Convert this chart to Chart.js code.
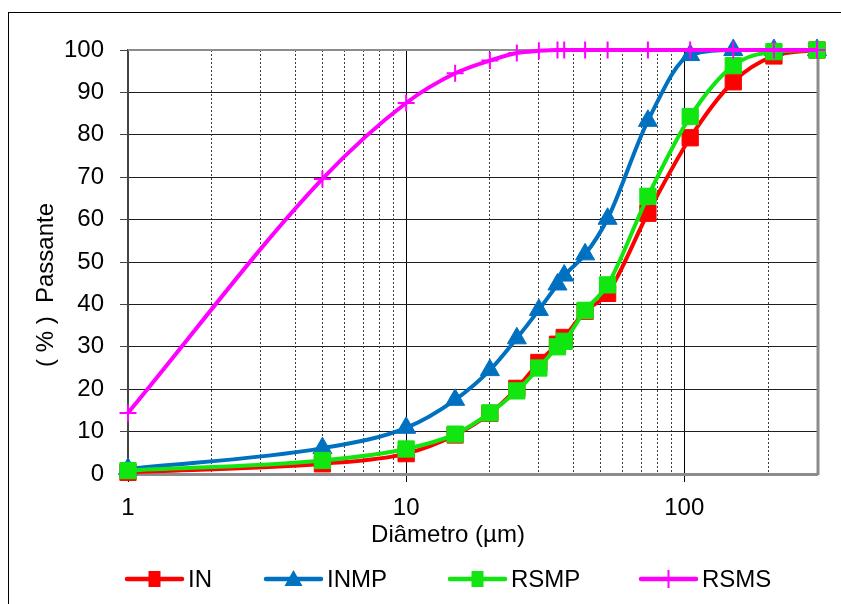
<!DOCTYPE html>
<html>
<head>
<meta charset="utf-8">
<script src="https://cdn.jsdelivr.net/npm/chart.js@4.4.1/dist/chart.umd.min.js"></script>
<style>
  html, body { margin: 0; padding: 0; background: #fff; }
  canvas { display: block; }
</style>
</head>
<body>
<canvas id="chart" width="841" height="604"></canvas>
<script>
// sieve / laser sizes (µm) shared by every curve
const diametro = [1, 5, 10, 15, 20, 25, 30, 35, 37, 44, 53, 74, 105, 150, 210, 300];

// cumulative % passing
const IN   = [0.4, 2.4, 4.8, 9.2, 14.3, 20.2, 26.3, 30.6, 32.2, 38.4, 42.6, 61.5, 79.3, 92.5, 98.6, 100];
const INMP = [1.2, 6.1, 10.9, 17.5, 24.5, 32.0, 38.7, 44.7, 46.8, 51.8, 60.2, 83.3, 98.8, 100, 100, 100];
const RSMP = [0.8, 3.2, 5.9, 9.4, 14.4, 19.6, 25.0, 30.0, 31.3, 38.6, 44.6, 65.5, 84.3, 96.3, 99.6, 100];
const RSMS = [14.4, 69.6, 87.5, 94.5, 97.5, 99.3, 99.8, 100, 100, 100, 100, 100, 100, 100, 100, 100];

const xLabels = [1, 10, 100];
const yTicks = [0, 10, 20, 30, 40, 50, 60, 70, 80, 90, 100];

const FONT = "'Liberation Sans', Arial, sans-serif";

const series = [
  { label: 'IN',   data: IN,   color: '#ff0000', style: 'rect',     radius: 11.5, order: 4 },
  { label: 'INMP', data: INMP, color: '#0070c0', style: 'triangle', radius: 11,   order: 3 },
  { label: 'RSMP', data: RSMP, color: '#11e611', style: 'rect',     radius: 11.5, order: 2 },
  { label: 'RSMS', data: RSMS, color: '#ff00ff', style: 'cross',    radius: 8.5,  order: 1 }
];

const isDecade = v => Math.abs(Math.log10(v) - Math.round(Math.log10(v))) < 1e-9;

// plot frame, outer border, axis titles and the line+marker legend
const extras = {
  id: 'extras',
  beforeDraw(chart) {
    const ctx = chart.ctx;
    ctx.save();
    ctx.strokeStyle = '#000';
    ctx.lineWidth = 1;
    ctx.strokeRect(8.5, 12.5, 900, 700);
    ctx.restore();
  },
  beforeDatasetsDraw(chart) {
    const { ctx, chartArea: a } = chart;
    ctx.save();
    ctx.strokeStyle = '#8c8c8c';
    ctx.lineWidth = 2;
    ctx.beginPath();
    ctx.moveTo(a.left, a.top);
    ctx.lineTo(a.right + 1, a.top);
    ctx.stroke();
    ctx.lineWidth = 3;
    ctx.beginPath();
    ctx.moveTo(a.right + 1, a.top);
    ctx.lineTo(a.right + 1, a.bottom + 1);
    ctx.stroke();
    ctx.restore();
  },
  afterDraw(chart) {
    const ctx = chart.ctx;
    ctx.save();
    ctx.fillStyle = '#000';
    ctx.font = '24px ' + FONT;
    ctx.textAlign = 'center';
    ctx.textBaseline = 'middle';
    ctx.fillText('Diâmetro (µm)', 448, 535);
    ctx.translate(46, 285);
    ctx.rotate(-Math.PI / 2);
    ctx.fillText('( % )  Passante', 0, 0);
    ctx.restore();

    const starts = [127, 266, 450, 641];
    const y = 579;
    series.forEach((s, i) => {
      const x0 = starts[i];
      ctx.save();
      ctx.strokeStyle = s.color;
      ctx.fillStyle = s.color;
      ctx.lineWidth = 4.5;
      ctx.lineCap = 'round';
      ctx.beginPath();
      ctx.moveTo(x0, y);
      ctx.lineTo(x0 + 55, y);
      ctx.stroke();
      const cx = x0 + 27.5;
      if (s.style === 'rect') {
        ctx.fillRect(cx - 6, y - 8, 12, 16);
      } else if (s.style === 'triangle') {
        ctx.beginPath();
        ctx.moveTo(cx, y - 9);
        ctx.lineTo(cx + 9, y + 7);
        ctx.lineTo(cx - 9, y + 7);
        ctx.closePath();
        ctx.fill();
      } else {
        ctx.lineWidth = 2;
        ctx.lineCap = 'butt';
        ctx.beginPath();
        ctx.moveTo(cx, y - 9);
        ctx.lineTo(cx, y + 9);
        ctx.stroke();
      }
      ctx.fillStyle = '#000';
      ctx.font = '24px ' + FONT;
      ctx.textAlign = 'left';
      ctx.textBaseline = 'middle';
      ctx.fillText(s.label, x0 + 61, y + 1);
      ctx.restore();
    });
  }
};

new Chart(document.getElementById('chart'), {
  type: 'line',
  data: {
    datasets: series.map(s => ({
      label: s.label,
      data: s.data.map((v, i) => ({ x: diametro[i], y: v })),
      borderColor: s.color,
      backgroundColor: s.color,
      borderWidth: 4,
      pointStyle: s.style,
      pointRadius: s.radius,
      pointBorderWidth: s.style === 'cross' ? 2 : 1,
      pointBorderColor: s.color,
      pointBackgroundColor: s.color,
      cubicInterpolationMode: 'monotone',
      fill: false,
      clip: false,
      order: s.order
    }))
  },
  options: {
    responsive: false,
    animation: false,
    events: [],
    layout: { padding: { left: 0, top: 50, right: 24, bottom: 0 } },
    plugins: { legend: { display: false }, tooltip: { enabled: false } },
    scales: {
      x: {
        type: 'logarithmic',
        min: 1,
        max: 300,
        afterFit: scale => { scale.height = 130; },
        afterBuildTicks: scale => {
          scale.ticks = scale.ticks.filter(t => {
            const m = t.value / Math.pow(10, Math.floor(Math.log10(t.value) + 1e-9));
            return Math.abs(m - Math.round(m)) < 1e-6;
          });
        },
        ticks: {
          autoSkip: false,
          maxRotation: 0,
          padding: 12,
          color: '#000',
          font: { family: FONT, size: 24 },
          callback: v => (xLabels.includes(v) ? String(v) : '')
        },
        grid: {
          color: c => (c.tick && isDecade(c.tick.value) ? '#000' : '#3a3a3a'),
          lineWidth: 1,
          tickLength: 8,
          tickColor: c => (c.tick && isDecade(c.tick.value) ? '#000' : 'rgba(0,0,0,0)')
        },
        border: {
          display: true,
          color: '#8c8c8c',
          width: 3,
          dash: c => (c.tick && !isDecade(c.tick.value) ? [2, 2] : [])
        }
      },
      y: {
        min: 0,
        max: 100,
        afterFit: scale => { scale.width = 128; },
        afterBuildTicks: scale => { scale.ticks = yTicks.map(v => ({ value: v })); },
        ticks: {
          padding: 16,
          color: '#000',
          font: { family: FONT, size: 24 }
        },
        grid: {
          color: '#1f1f1f',
          lineWidth: 1,
          tickLength: 8,
          tickColor: '#444'
        },
        border: { display: true, color: '#444', width: 2 }
      }
    }
  },
  plugins: [extras]
});
</script>
</body>
</html>
